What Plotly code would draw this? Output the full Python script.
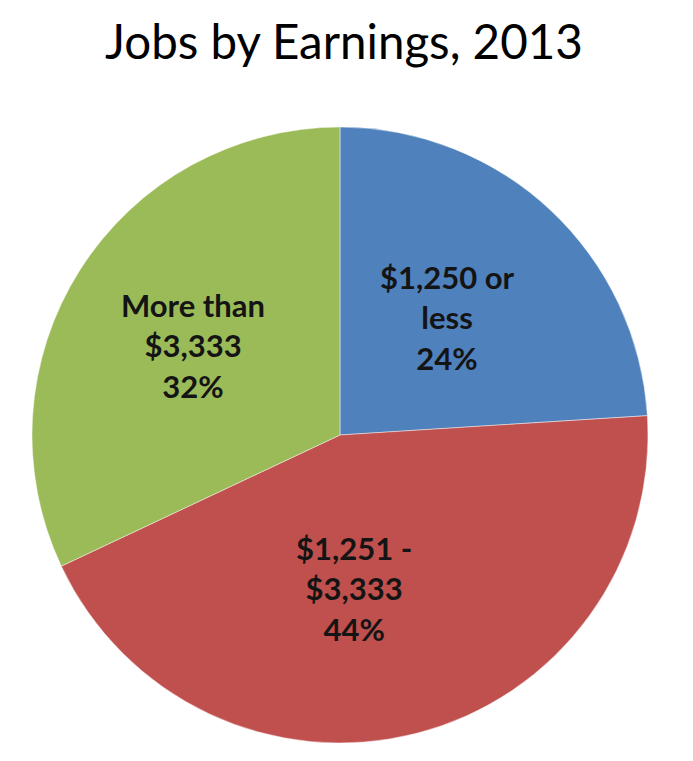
import math
import plotly.graph_objects as go

# Share of jobs by monthly earnings band, 2013
categories = ["$1,250 or<br>less", "$1,251 -<br>$3,333", "More than<br>$3,333"]
shares = [24, 44, 32]
colors = ["#4F81BD", "#C0504D", "#9BBB59"]

W, H = 693, 761
# pie placement in pixels
cx, cy, R = 340, 435, 308

fig = go.Figure(
    go.Pie(
        labels=categories,
        values=shares,
        sort=False,
        direction="clockwise",
        rotation=0,
        marker=dict(colors=colors, line=dict(color="rgba(255,255,255,0.45)", width=1)),
        textinfo="none",
        hoverinfo="label+percent",
        showlegend=False,
        domain=dict(x=[(cx - R) / W, (cx + R) / W], y=[1 - (cy + R) / H, 1 - (cy - R) / H]),
    )
)

# label placement: angular shift (deg) from slice middle and radius fraction
label_shift = [-0.8, 9.2, -1.1]
label_radius = [0.515, 0.50, 0.56]

total = sum(shares)
start = 0.0
annotations = []
for lab, v, shift, rf in zip(categories, shares, label_shift, label_radius):
    span = 360.0 * v / total
    mid = math.radians(start + span / 2 + shift)
    px = cx + rf * R * math.sin(mid)
    py = cy - rf * R * math.cos(mid)
    annotations.append(
        dict(
            x=px / W, y=1 - py / H, xref="paper", yref="paper",
            text="<b>%s<br>%d%%</b>" % (lab, round(100 * v / total)),
            showarrow=False, xanchor="center", yanchor="middle",
            font=dict(family="Lato", size=31, color="#141414"),
        )
    )
    start += span

annotations.append(
    dict(
        x=344 / W, y=1 - 41 / H, xref="paper", yref="paper",
        text="Jobs by Earnings, 2013", showarrow=False,
        xanchor="center", yanchor="middle",
        font=dict(family="Lato", size=47.5, color="#000000"),
    )
)

fig.update_layout(
    width=W, height=H,
    margin=dict(l=0, r=0, t=0, b=0),
    paper_bgcolor="white",
    plot_bgcolor="white",
    annotations=annotations,
)

fig.write_html("out.html")
